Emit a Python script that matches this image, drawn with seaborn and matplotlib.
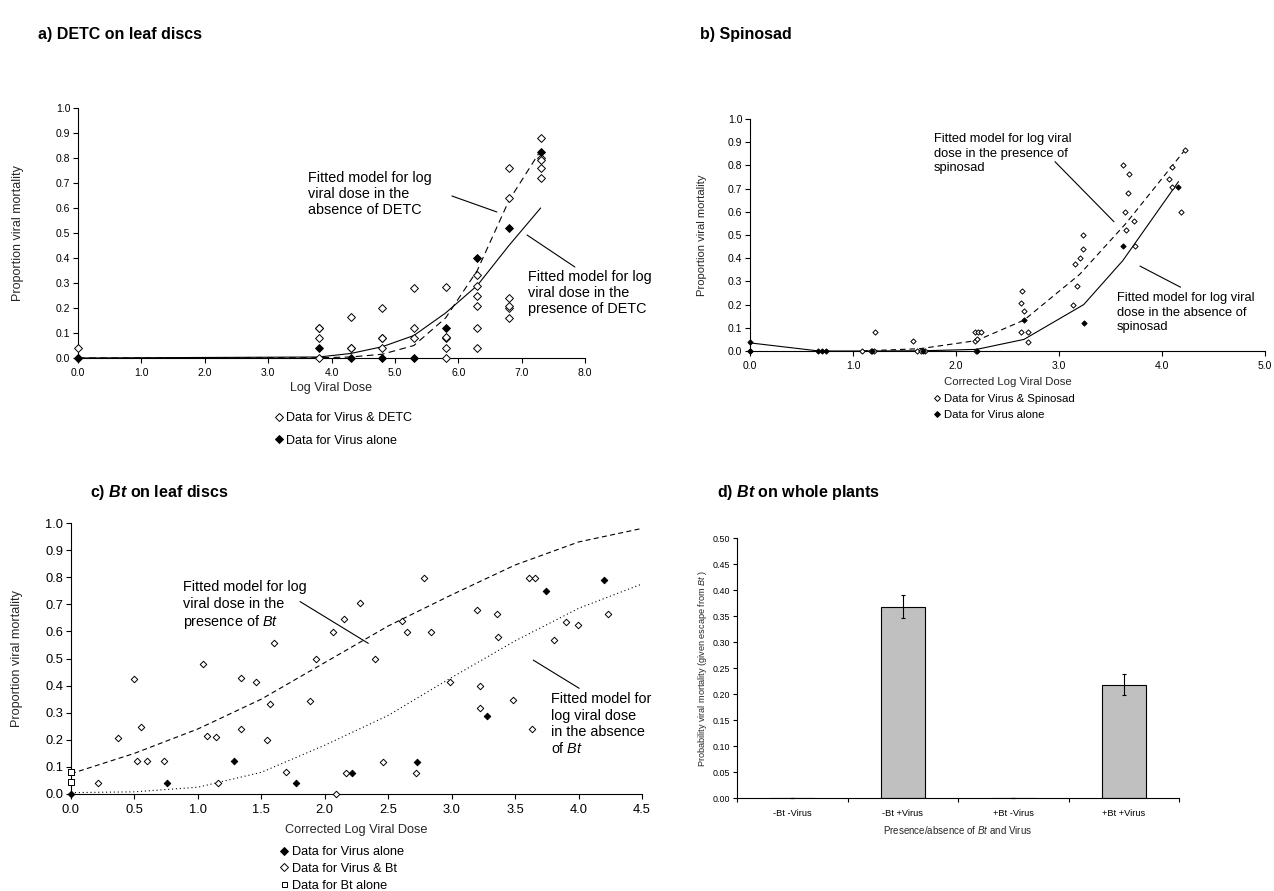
import numpy as np
import pandas as pd
import matplotlib
matplotlib.use('Agg')
import matplotlib.pyplot as plt
from matplotlib.lines import Line2D
import seaborn as sns

# ---------------- a) DETC on leaf discs ----------------
detc_x = [0, 0, 3.8, 3.8, 3.8, 3.8, 4.3, 4.3, 4.3, 4.8, 4.8, 4.8, 4.8,
          5.3, 5.3, 5.3, 5.8, 5.8, 5.8, 5.8, 5.8,
          6.3, 6.3, 6.3, 6.3, 6.3, 6.3, 6.8, 6.8, 6.8, 6.8, 6.8, 6.8,
          7.3, 7.3, 7.3, 7.3, 7.3]
detc_y = [0.04, 0.0, 0.12, 0.12, 0.08, 0.0, 0.165, 0.04, 0.04, 0.2, 0.08, 0.08, 0.04,
          0.28, 0.12, 0.08, 0.285, 0.08, 0.084, 0.04, 0.0,
          0.333, 0.29, 0.25, 0.21, 0.12, 0.04, 0.76, 0.64, 0.24, 0.2, 0.21, 0.16,
          0.88, 0.8, 0.79, 0.76, 0.72]
detc_virus_x = [0, 3.8, 4.3, 4.8, 5.3, 5.8, 6.3, 6.8, 7.3]
detc_virus_y = [0.0, 0.04, 0.0, 0.0, 0.0, 0.12, 0.4, 0.52, 0.825]
detc_fit_dose = [0, 3.8, 4.3, 4.8, 5.3, 5.8, 6.3, 6.8, 7.3]
detc_fit_absent = [0.0, 0.001, 0.004, 0.015, 0.05, 0.16, 0.35, 0.63, 0.83]
detc_fit_present = [0.0, 0.004, 0.018, 0.045, 0.09, 0.18, 0.29, 0.45, 0.60]

# ---------------- b) Spinosad ----------------
spin_x = [0, 1.09, 1.17, 1.20, 1.21, 1.58, 1.62, 1.66, 1.70, 2.18, 2.21, 2.24,
          2.18, 2.20, 2.19, 2.64, 2.63, 2.66, 2.63, 2.70, 2.70,
          3.14, 3.17, 3.16, 3.20, 3.23, 3.23, 3.62, 3.68, 3.67, 3.64, 3.73, 3.65,
          3.74, 4.22, 4.10, 4.07, 4.10, 4.18]
spin_y = [0.0, 0.0, 0.0, 0.0, 0.08, 0.043, 0.0, 0.0, 0.0, 0.08, 0.08, 0.08,
          0.045, 0.05, 0.0, 0.26, 0.208, 0.174, 0.08, 0.08, 0.04,
          0.2, 0.28, 0.375, 0.40, 0.44, 0.50, 0.80, 0.763, 0.68, 0.60, 0.56, 0.52,
          0.454, 0.866, 0.794, 0.74, 0.708, 0.60]
spin_virus_x = [0, 0, 0.66, 0.70, 0.74, 1.18, 1.68, 2.20, 2.66, 3.24, 3.62, 4.16]
spin_virus_y = [0.037, 0.0, 0.0, 0.0, 0.0, 0.0, 0.0, 0.0, 0.132, 0.12, 0.454, 0.708]
spin_fit_present_x = [1.09, 1.2, 1.65, 2.2, 2.66, 3.2, 3.65, 4.22]
spin_fit_present_y = [0.0, 0.002, 0.01, 0.045, 0.133, 0.33, 0.55, 0.865]
spin_fit_absent_x = [0, 0.67, 1.2, 1.68, 2.2, 2.66, 3.24, 3.62, 4.16]
spin_fit_absent_y = [0.035, 0.0, 0.0, 0.001, 0.007, 0.05, 0.2, 0.39, 0.73]

# ---------------- c) Bt on leaf discs ----------------
bt_x = [0.215, 0.368, 0.496, 0.552, 0.52, 0.60, 0.733, 1.043, 1.07, 1.143, 1.161,
        1.337, 1.337, 1.458, 1.542, 1.568, 1.60, 1.694, 1.883, 1.928, 2.067, 2.149,
        2.28, 2.396, 2.165, 2.086, 2.461, 2.72, 2.606, 2.65, 2.782, 2.834, 2.989,
        3.2, 3.357, 3.367, 3.225, 3.223, 3.486, 3.63, 3.609, 3.659, 3.806, 3.90,
        3.993, 4.234]
bt_y = [0.04, 0.208, 0.423, 0.248, 0.123, 0.12, 0.123, 0.478, 0.215, 0.211, 0.04,
        0.427, 0.239, 0.414, 0.199, 0.332, 0.558, 0.08, 0.344, 0.498, 0.598, 0.645,
        0.706, 0.498, 0.079, 0.0, 0.118, 0.079, 0.638, 0.598, 0.798, 0.598, 0.414,
        0.678, 0.664, 0.581, 0.398, 0.319, 0.348, 0.239, 0.798, 0.798, 0.568, 0.633,
        0.622, 0.664]
bt_virus_x = [0, 0.754, 1.284, 1.773, 2.217, 2.729, 3.276, 3.743, 4.198]
bt_virus_y = [0.0, 0.04, 0.12, 0.04, 0.079, 0.118, 0.289, 0.748, 0.79]
bt_alone_x = [0, 0, 0]
bt_alone_y = [0.083, 0.083, 0.045]
bt_fit_dose = [0, 0.5, 1.0, 1.5, 2.0, 2.5, 3.0, 3.5, 4.0, 4.5]
bt_fit_present = [0.075, 0.15, 0.24, 0.35, 0.485, 0.62, 0.735, 0.845, 0.93, 0.98]
bt_fit_absent = [0.005, 0.008, 0.025, 0.08, 0.18, 0.29, 0.43, 0.565, 0.685, 0.775]

# ---------------- d) Bt on whole plants ----------------
plant_groups = ['-Bt -Virus', '-Bt +Virus', '+Bt -Virus', '+Bt +Virus']
plant_prob = [0.0, 0.368, 0.0, 0.218]
plant_err = [0.0, 0.022, 0.0, 0.020]

sns.set_theme(style='white')
plt.rcParams['font.family'] = ['Liberation Sans', 'DejaVu Sans']
plt.rcParams['mathtext.fontset'] = 'custom'
plt.rcParams['mathtext.rm'] = 'Liberation Sans'
plt.rcParams['mathtext.it'] = 'Liberation Sans:italic'
plt.rcParams['mathtext.bf'] = 'Liberation Sans:bold'
plt.rcParams['mathtext.bfit'] = 'Liberation Sans:bold:italic'
plt.rcParams['text.color'] = 'black'

W, H = 1274, 891
fig = plt.figure(figsize=(W / 100, H / 100), dpi=100)


def box(l, t, r, b):
    return [l / W, 1 - b / H, (r - l) / W, (b - t) / H]


def fpos(x, y):
    return (x / W, 1 - y / H)


def style_axes(ax, xlim, ylim, xticks, yticks, xfmt, yfmt, tsize):
    ax.set_xlim(*xlim)
    ax.set_ylim(*ylim)
    sns.despine(ax=ax)
    for s in ['left', 'bottom']:
        ax.spines[s].set_color('black')
        ax.spines[s].set_linewidth(0.8)
    ax.set_xticks(xticks)
    ax.set_xticklabels([xfmt.format(t) for t in xticks])
    ax.set_yticks(yticks)
    ax.set_yticklabels([yfmt.format(t) for t in yticks])
    ax.tick_params(direction='out', length=3.5, width=0.8, colors='black',
                   labelsize=tsize, left=True, bottom=True)
    ax.tick_params(axis='y', pad=2)
    ax.tick_params(axis='x', pad=4)
    ax.patch.set_alpha(0)


def scatter(ax, x, y, filled, size, marker='D'):
    sns.scatterplot(x=x, y=y, ax=ax, marker=marker, s=size,
                    color='black' if filled else 'white', edgecolor='black',
                    linewidth=0.7, clip_on=False, zorder=4, legend=False)


def curve(ax, x, y, dashes=None):
    sns.lineplot(x=x, y=y, ax=ax, color='black', linewidth=0.8, zorder=3)
    if dashes is not None:
        ax.lines[-1].set_dashes(dashes)


def legend(ax, entries, xy, fsize, msize, tpad, lspace):
    handles = [Line2D([], [], linestyle='none', marker=m, markersize=msize,
                      markerfacecolor=fc, markeredgecolor='black', markeredgewidth=0.7)
               for m, fc, _ in entries]
    ax.legend(handles, [lab for _, _, lab in entries], loc='upper left',
              bbox_to_anchor=fpos(*xy), bbox_transform=fig.transFigure,
              frameon=False, fontsize=fsize, handlelength=0.6, handletextpad=tpad,
              labelspacing=lspace, borderpad=0, borderaxespad=0)


def annotate(ax, text, xy, line, fsize, spacing):
    ax.text(xy[0], xy[1], text, ha='left', va='top', fontsize=fsize,
            linespacing=spacing, color='black')
    (x0, y0), (x1, y1) = line
    ax.plot([x0, x1], [y0, y1], color='black', linewidth=0.8, clip_on=False)


# ---- panel a ----
ax_a = fig.add_axes(box(78, 108, 585, 358))
curve(ax_a, detc_fit_dose, detc_fit_absent, dashes=(6, 4))
curve(ax_a, detc_fit_dose, detc_fit_present)
scatter(ax_a, detc_x, detc_y, False, 16)
scatter(ax_a, detc_virus_x, detc_virus_y, True, 16)
style_axes(ax_a, (0, 8), (0, 1), np.arange(0, 8.1, 1.0), np.arange(0, 1.01, 0.1),
           '{:.1f}', '{:.1f}', 7.5)
ax_a.set_xlabel('Log Viral Dose', fontsize=9)
ax_a.set_ylabel('Proportion viral mortality', fontsize=9)
ax_a.xaxis.set_label_coords(0.5, -0.096)
ax_a.yaxis.set_label_coords(-0.107, 0.5)
annotate(ax_a, 'Fitted model for log\nviral dose in the\nabsence of DETC',
         (3.63, 0.748), ((5.90, 0.648), (6.61, 0.584)), 10.4, 1.2)
annotate(ax_a, 'Fitted model for log\nviral dose in the\npresence of DETC',
         (7.10, 0.354), ((7.085, 0.492), (7.84, 0.364)), 10.4, 1.2)
legend(ax_a, [('D', 'white', 'Data for Virus & DETC'), ('D', 'black', 'Data for Virus alone')],
       (275, 412), 9, 4.2, 0.3, 0.84)

# ---- panel b ----
ax_b = fig.add_axes(box(750, 119, 1265, 351))
curve(ax_b, spin_fit_present_x, spin_fit_present_y, dashes=(5, 3.5))
curve(ax_b, spin_fit_absent_x, spin_fit_absent_y)
scatter(ax_b, spin_x, spin_y, False, 7)
scatter(ax_b, spin_virus_x, spin_virus_y, True, 7)
style_axes(ax_b, (0, 5), (0, 1), np.arange(0, 5.1, 1.0), np.arange(0, 1.01, 0.1),
           '{:.1f}', '{:.1f}', 7.5)
ax_b.set_xlabel('Corrected Log Viral Dose', fontsize=8.2)
ax_b.set_ylabel('Proportion viral mortality', fontsize=8.1)
ax_b.xaxis.set_label_coords(0.5, -0.11)
ax_b.yaxis.set_label_coords(-0.083, 0.5)
annotate(ax_b, 'Fitted model for log viral\ndose in the presence of\nspinosad',
         (1.786, 0.94), ((2.961, 0.816), (3.534, 0.557)), 9.3, 1.3)
annotate(ax_b, 'Fitted model for log viral\ndose in the absence of\nspinosad',
         (3.563, 0.254), ((3.786, 0.366), (4.18, 0.275)), 9.3, 1.3)
legend(ax_b, [('D', 'white', 'Data for Virus & Spinosad'), ('D', 'black', 'Data for Virus alone')],
       (934, 393.5), 8.2, 3.0, 0.3, 0.55)

# ---- panel c ----
ax_c = fig.add_axes(box(71, 523, 642, 794))
curve(ax_c, bt_fit_dose, bt_fit_present, dashes=(4.5, 3))
curve(ax_c, bt_fit_dose, bt_fit_absent, dashes=(1, 2.5))
scatter(ax_c, bt_x, bt_y, False, 11)
scatter(ax_c, bt_virus_x, bt_virus_y, True, 11)
scatter(ax_c, bt_alone_x, bt_alone_y, False, 16, marker='s')
style_axes(ax_c, (0, 4.5), (0, 1), np.arange(0, 4.51, 0.5), np.arange(0, 1.01, 0.1),
           '{:.1f}', '{:.1f}', 9.3)
ax_c.set_xlabel('Corrected Log Viral Dose', fontsize=9.2)
ax_c.set_ylabel('Proportion viral mortality', fontsize=9.1)
ax_c.xaxis.set_label_coords(0.5, -0.109)
ax_c.yaxis.set_label_coords(-0.084, 0.5)
annotate(ax_c, 'Fitted model for log\nviral dose in the\npresence of $\\mathit{Bt}$',
         (0.883, 0.788), ((1.805, 0.710), (2.343, 0.556)), 10.4, 1.2)
annotate(ax_c, 'Fitted model for\nlog viral dose\nin the absence\nof $\\mathit{Bt}$',
         (3.78, 0.375), ((3.643, 0.494), (4.005, 0.390)), 10.4, 1.2)
legend(ax_c, [('D', 'black', 'Data for Virus alone'), ('D', 'white', 'Data for Virus & Bt'),
              ('s', 'white', 'Data for Bt alone')],
       (280, 846), 9.2, 3.6, 0.3, 0.38)

# ---- panel d ----
ax_d = fig.add_axes(box(737, 538, 1179, 798))
sns.barplot(x=plant_groups, y=plant_prob, ax=ax_d, color='#c0c0c0', saturation=1,
            edgecolor='black', linewidth=0.8, width=0.4, errorbar=None)
ax_d.errorbar(np.arange(len(plant_groups)), plant_prob, yerr=plant_err, fmt='none',
              ecolor='black', elinewidth=0.8, capsize=1.6, capthick=0.8,
              clip_on=False, zorder=5)
ax_d.set_xlim(-0.5, 3.5)
ax_d.set_ylim(0, 0.5)
sns.despine(ax=ax_d)
for s in ['left', 'bottom']:
    ax_d.spines[s].set_color('black')
    ax_d.spines[s].set_linewidth(0.8)
ax_d.set_yticks(np.arange(0, 0.501, 0.05))
ax_d.set_yticklabels(['{:.2f}'.format(t) for t in np.arange(0, 0.501, 0.05)])
ax_d.set_xticks(np.arange(4))
ax_d.set_xticklabels(plant_groups)
ax_d.set_xticks(np.arange(-0.5, 3.6, 1.0), minor=True)
ax_d.tick_params(axis='y', direction='out', length=3, width=0.8, labelsize=6.4,
                 left=True, pad=2, colors='black')
ax_d.tick_params(axis='x', which='major', length=0, labelsize=6.7, pad=8, colors='black')
ax_d.tick_params(axis='x', which='minor', direction='out', length=3, width=0.8,
                 bottom=True, colors='black')
ax_d.set_xlabel('Presence/absence of $\\mathit{Bt}$ and Virus', fontsize=7)
ax_d.set_ylabel('Probability viral mortality (given escape from $\\mathit{Bt}$ )', fontsize=6.6)
ax_d.xaxis.set_label_coords(0.5, -0.1)
ax_d.yaxis.set_label_coords(-0.063, 0.5)
ax_d.patch.set_alpha(0)

# ---- titles ----
fig.text(*fpos(38, 35), 'a) DETC on leaf discs', fontsize=11.5, fontweight='bold', va='center')
fig.text(*fpos(700, 35), 'b) Spinosad', fontsize=11.5, fontweight='bold', va='center')
fig.text(*fpos(90, 492), 'c) $\\mathbfit{Bt}$ on leaf discs', fontsize=11.5,
         fontweight='bold', va='center')
fig.text(*fpos(717, 492), 'd) $\\mathbfit{Bt}$ on whole plants', fontsize=11.5,
         fontweight='bold', va='center')

fig.savefig('out.png', dpi=100)
